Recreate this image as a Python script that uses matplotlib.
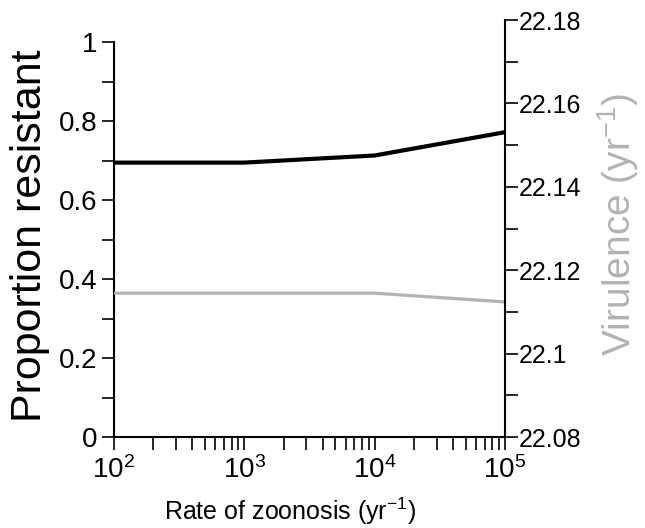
import numpy as np
import matplotlib
matplotlib.use("Agg")
import matplotlib.pyplot as plt
from matplotlib.ticker import MultipleLocator, FuncFormatter, LogLocator, LogFormatterMathtext

plt.rcParams['font.family'] = ['Liberation Sans', 'DejaVu Sans']
plt.rcParams['mathtext.fontset'] = 'custom'
plt.rcParams['mathtext.rm'] = 'Liberation Sans'
plt.rcParams['mathtext.it'] = 'Liberation Sans:italic'
plt.rcParams['mathtext.bf'] = 'Liberation Sans:bold'

# data
zoonosis_rate = [1e2, 1e3, 1e4, 1e5]
prop_resistant = [0.695, 0.695, 0.713, 0.772]
virulence = [22.1145, 22.1145, 22.1145, 22.1124]

grey = '#b3b3b3'

fig = plt.figure(figsize=(6.45, 5.28), dpi=100)
ax = fig.add_axes([0.1767, 0.1723, 0.6062, 0.7897])
ax2 = ax.twinx()

ax.plot(zoonosis_rate, prop_resistant, color='black', lw=3.0, zorder=5)
ax2.plot(zoonosis_rate, virulence, color=grey, lw=2.3)

ax.set_xscale('log')
ax.set_xlim(1e2, 1e5)
ax.set_ylim(0, 1.056)
ax2.set_ylim(22.08, 22.18)

# spines
for a in (ax, ax2):
    a.spines['top'].set_visible(False)
    for s in a.spines.values():
        s.set_linewidth(1.5)
ax.spines['right'].set_visible(False)
ax2.spines['left'].set_visible(False)
ax2.spines['bottom'].set_visible(False)
ax.spines['left'].set_bounds(0, 1)

# ticks
fmt = FuncFormatter(lambda v, p: '%g' % round(v, 3))
ax.set_yticks([0, 0.2, 0.4, 0.6, 0.8, 1.0])
ax.set_yticks(np.arange(0.1, 1.0, 0.2), minor=True)
ax.yaxis.set_major_formatter(fmt)

ax.xaxis.set_major_locator(LogLocator(base=10))
ax.xaxis.set_minor_locator(LogLocator(base=10, subs=np.arange(2, 10)))
ax.xaxis.set_major_formatter(LogFormatterMathtext())

ax2.yaxis.set_major_locator(MultipleLocator(0.02))
ax2.yaxis.set_minor_locator(MultipleLocator(0.01))
ax2.yaxis.set_major_formatter(fmt)

ax.tick_params(axis='both', which='both', direction='out', length=9, width=1.2,
               labelsize=20, pad=3)
ax.tick_params(axis='x', which='both', pad=5)
ax.tick_params(axis='x', which='minor', labelbottom=False)
ax2.tick_params(axis='y', which='both', direction='out', length=9, width=1.2,
                labelsize=18, pad=1)

ax.set_xlabel(r'Rate of zoonosis (yr$^{-1}$)', fontsize=18, va='center')
ax.xaxis.set_label_coords(0.45, -0.178)
ax.set_ylabel('Proportion resistant', fontsize=31, va='center')
ax.yaxis.set_label_coords(-0.215, 0.482)
ax2.set_ylabel(r'Virulence (yr$^{-1}$)', fontsize=28, color=grey, va='center')
ax2.yaxis.set_label_coords(1.29, 0.511)

fig.savefig('out.png', dpi=100)
